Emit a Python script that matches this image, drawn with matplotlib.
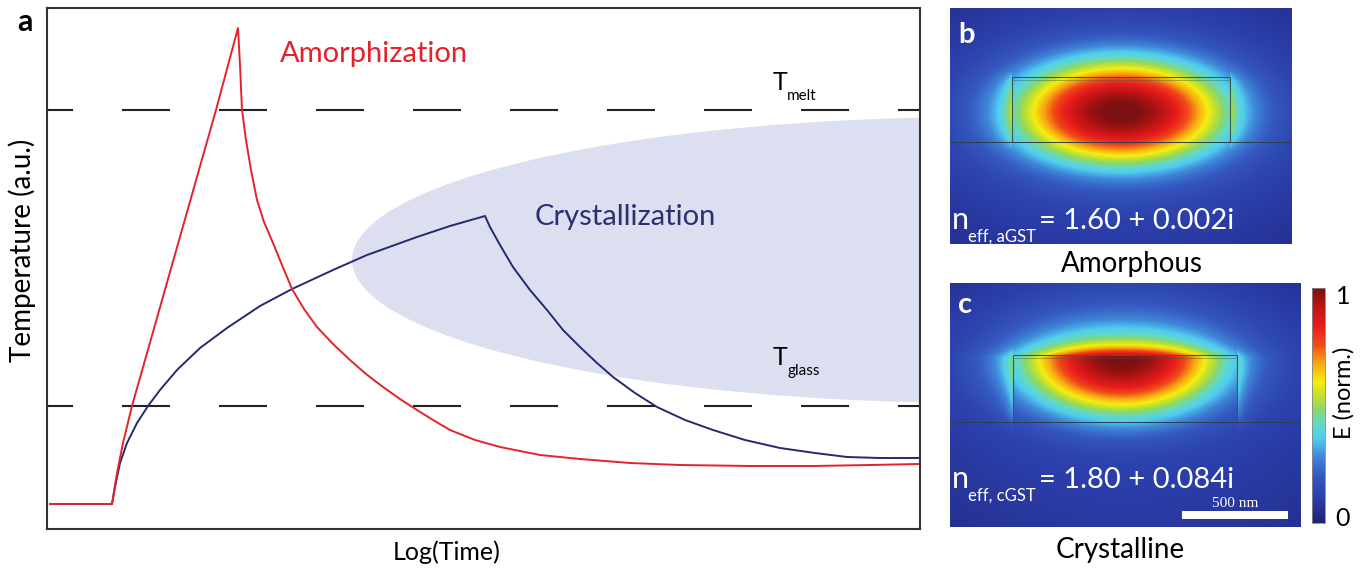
import numpy as np
import matplotlib.pyplot as plt
from matplotlib.colors import LinearSegmentedColormap
from matplotlib.patches import Ellipse, Rectangle

plt.rcParams['font.family'] = ['Lato', 'DejaVu Sans']

W, H = 1361, 569

# panel a: temperature profiles (time and temperature in arbitrary units)
amorph_t = [3, 65, 70, 76, 85, 169, 191, 193, 195, 199, 204, 210, 217, 226, 235, 245, 257, 270,
            286, 303, 319, 336, 353, 370, 386, 403, 428, 453, 493, 533, 583, 633, 703, 766, 823, 871]
amorph_T = [25, 25, 56, 86, 123, 419, 501, 464, 419, 389, 359, 329, 307, 286, 264, 240, 220, 202,
            185, 169, 155, 142, 130, 119, 109, 99, 89, 82, 74, 70, 66, 64, 63, 63, 64, 65]

cryst_t = [3, 65, 68, 73, 80, 90, 101, 113, 130, 153, 180, 213, 245, 286, 320, 370, 403, 438,
           443, 453, 466, 483, 500, 516, 533, 550, 566, 588, 610, 638, 666, 698, 733, 768, 800, 833, 871]
cryst_T = [25, 25, 42, 66, 86, 106, 123, 139, 159, 181, 201, 223, 240, 259, 274, 292, 303, 313,
           302, 284, 262, 239, 219, 199, 182, 166, 152, 136, 122, 109, 99, 89, 81, 76, 72, 71, 71]

T_melt = 419
T_glass = 123
cryst_window = (933, 269, 1256, 286)  # centre t, centre T, width, height

# panels b, c: effective indices
neff_b = ('n', 'eff, aGST', '= 1.60 + 0.002i')
neff_c = ('n', 'eff, cGST', '= 1.80 + 0.084i')

red = '#e3232c'
navy = '#252a6e'


def px(x, y):
    return x / W, 1 - y / H


fig = plt.figure(figsize=(W / 100, H / 100), dpi=100)

# ---------------- panel a ----------------
ax = fig.add_axes([47 / W, 40 / H, 873 / W, 521 / H])
ax.set_xlim(0, 873)
ax.set_ylim(0, 521)
cx, cy, ew, eh = cryst_window
ax.add_patch(Ellipse((cx, cy), ew, eh, facecolor='#dcdff0', edgecolor='none', zorder=0))
for lvl in (T_melt, T_glass):
    ax.axhline(lvl, color='#222222', lw=1.5, linestyle=(10.56, (23.04, 23.52)), zorder=1)
ax.plot(amorph_t, amorph_T, color=red, lw=1.4, zorder=3, solid_joinstyle='round')
ax.plot(cryst_t, cryst_T, color=navy, lw=1.4, zorder=2, solid_joinstyle='round')
ax.set_xticks([])
ax.set_yticks([])
for s in ax.spines.values():
    s.set_linewidth(1.5)
    s.set_color('#333333')

fig.text(*px(17, 31), 'a', fontsize=22, fontweight='bold', va='baseline')
fig.text(*px(280, 62), 'Amorphization', fontsize=21, color=red, va='baseline')
fig.text(*px(535, 225), 'Crystallization', fontsize=21, color='#2b3170', va='baseline')
fig.text(*px(773, 90), 'T', fontsize=18, va='baseline')
fig.text(*px(787, 100), 'melt', fontsize=11, va='baseline')
fig.text(*px(773, 365), 'T', fontsize=18, va='baseline')
fig.text(*px(787, 375), 'glass', fontsize=11, va='baseline')
fig.text(*px(22, 250), 'Temperature (a.u.)', fontsize=20, rotation=90, ha='center', va='center')
fig.text(*px(447, 560), 'Log(Time)', fontsize=18, ha='center', va='baseline')

# ---------------- panels b, c ----------------
cmap = LinearSegmentedColormap.from_list('field', [
    (0.00, '#1e2378'), (0.10, '#2b3da8'), (0.20, '#3558c0'), (0.28, '#3f86d8'),
    (0.36, '#50cdf0'), (0.42, '#62d8c8'), (0.48, '#86d870'), (0.54, '#c0e030'),
    (0.60, '#f5ee10'), (0.68, '#f8a812'), (0.76, '#f04a18'), (0.84, '#e81c1c'),
    (0.92, '#c01515'), (1.00, '#7a1010')])


def field(w, h, x0, y0, sx, sy_up, sy_dn, guide, evanescent_top=None):
    X, Y = np.meshgrid(np.arange(w) + 0.5, np.arange(h) + 0.5)
    dx = (X - x0) / sx
    dy = np.where(Y < y0, (Y - y0) / sy_up, (Y - y0) / sy_dn)
    d = np.sqrt(dx ** 2 + dy ** 2)
    core = np.exp(-d ** 2.4)
    halo_d = np.sqrt(dx ** 2 + ((Y - y0) / sy_dn) ** 2)
    if evanescent_top is not None:
        top = np.exp(-np.abs(dx) ** 2.4) * np.exp(-np.abs(Y - y0) / evanescent_top)
        core = np.where(Y < y0, top, core)
        halo_d = np.sqrt(dx ** 2 + ((Y - y0) / (sy_dn * 0.75)) ** 2)
    halo = np.exp(-(halo_d / 1.5) ** 2)
    gx0, gx1, gy0, gy1 = guide
    yc, hy = (gy0 + gy1) / 2, (gy1 - gy0) / 2
    gate = np.exp(-np.abs((Y - yc) / (hy * 1.05)) ** 6)
    wall = np.where(X < gx0, np.exp(-(gx0 - X) / 8), np.where(X > gx1, np.exp(-(X - gx1) / 8), 0))
    bulge = 0.12 * wall * gate
    r2 = ((X - w / 2) / (w / 2)) ** 2 + ((Y - h / 2) / (h / 2)) ** 2
    bg = 0.115 - 0.03 * r2
    return np.clip(bg + (1 - bg) * core + 0.16 * halo * (1 - core) + bulge, 0, 1)


def mode_panel(rect, data, guide, label, neff, base):
    x, y, w, h = rect
    a = fig.add_axes([x / W, 1 - (y + h) / H, w / W, h / H])
    im = a.imshow(data, cmap=cmap, vmin=0, vmax=1, extent=(0, w, h, 0),
                  interpolation='bilinear', aspect='auto')
    gx0, gx1, gy0, gy1 = guide
    a.plot([gx0, gx0, gx1, gx1], [gy1, gy0, gy0, gy1], color='#3e5a48', lw=0.8)
    a.plot([gx0, gx1], [gy0 + 3, gy0 + 3], color='#3e5a48', lw=0.5, alpha=0.6)
    a.axhline(gy1, color='#2a4050', lw=0.7)
    a.set_xlim(0, w)
    a.set_ylim(h, 0)
    a.axis('off')
    fig.text(*px(x + 8, y + label[1]), label[0], fontsize=21, fontweight='bold',
             color='white', va='baseline')
    fig.text(*px(x + 2, y + base), neff[0], fontsize=22, color='white', va='baseline')
    fig.text(*px(x + 18, y + base + 13), neff[1], fontsize=12, color='white', va='baseline')
    fig.text(*px(x + 89, y + base), neff[2], fontsize=21, color='white', va='baseline')
    return a, im


data_b = field(342, 236, 171, 104, 100, 50, 50, (62, 280, 69, 134))
ax_b, im = mode_panel((950, 8, 342, 236), data_b, (62, 280, 69, 134), ('b', 35), neff_b, 221)

data_c = field(351, 244, 172, 74, 95, 17, 55, (63, 287, 72, 139), evanescent_top=16)
ax_c, im = mode_panel((950, 283, 351, 244), data_c, (63, 287, 72, 139), ('c', 30), neff_c, 205)
ax_c.add_patch(Rectangle((232, 228), 106, 8, facecolor='white', edgecolor='none'))
fig.text(*px(1235, 507), '500 nm', fontsize=11, color='white', ha='center', va='baseline',
         family='Liberation Serif')

fig.text(*px(1132, 272), 'Amorphous', fontsize=20, ha='center', va='baseline')
fig.text(*px(1120, 558), 'Crystalline', fontsize=20, ha='center', va='baseline')

cax = fig.add_axes([1312 / W, 1 - 523 / H, 13 / W, 235 / H])
cb = fig.colorbar(im, cax=cax)
cb.set_ticks([])
cb.outline.set_linewidth(0.6)
cb.outline.set_edgecolor('#888888')
fig.text(*px(1343, 297), '1', fontsize=18, ha='center', va='center')
fig.text(*px(1343, 519), '0', fontsize=18, ha='center', va='center')
fig.text(*px(1344, 393), 'E (norm.)', fontsize=17, rotation=90, ha='center', va='center')

fig.savefig('out.png', dpi=100)
